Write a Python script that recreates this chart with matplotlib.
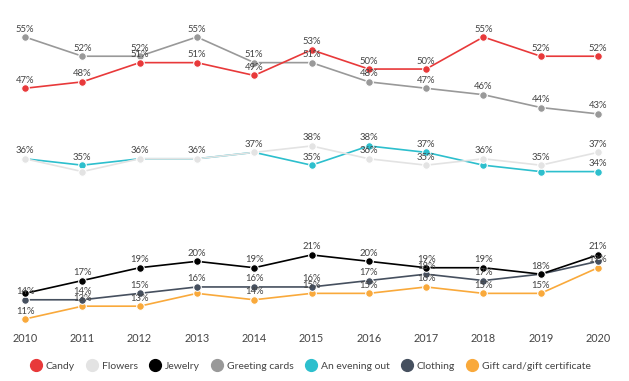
import matplotlib.pyplot as plt
from matplotlib.lines import Line2D

years = [2010, 2011, 2012, 2013, 2014, 2015, 2016, 2017, 2018, 2019, 2020]

candy = [47, 48, 51, 51, 49, 53, 50, 50, 55, 52, 52]
flowers = [36, 34, 36, 36, 37, 38, 36, 35, 36, 35, 37]
jewelry = [15, 17, 19, 20, 19, 21, 20, 19, 19, 18, 21]
greeting_cards = [55, 52, 52, 55, 51, 51, 48, 47, 46, 44, 43]
evening_out = [36, 35, 36, 36, 37, 35, 38, 37, 35, 34, 34]
clothing = [14, 14, 15, 16, 16, 16, 17, 18, 17, 18, 20]
gift_card = [11, 13, 13, 15, 14, 15, 15, 16, 15, 15, 19]

series = [
    ("Candy", candy, "#E8393A"),
    ("Flowers", flowers, "#E3E3E3"),
    ("Jewelry", jewelry, "#000000"),
    ("Greeting cards", greeting_cards, "#999999"),
    ("An evening out", evening_out, "#2DBFCD"),
    ("Clothing", clothing, "#46505F"),
    ("Gift card/gift certificate", gift_card, "#F9A93B"),
]

# labels that are covered by other marks in the original
hidden = {("Flowers", 2011), ("An evening out", 2018), ("An evening out", 2019),
          ("Jewelry", 2010), ("Gift card/gift certificate", 2013),
          ("Clothing", 2020)}

plt.rcParams["font.family"] = ["Lato", "DejaVu Sans"]

fig = plt.figure(figsize=(6.29, 3.81), dpi=100)
ax = fig.add_axes([25 / 629, 62 / 381, 573 / 629, 282 / 381])

placed = set()
for name, vals, color in series:
    for x, v in zip(years, vals):
        if (x, v) in placed or (name, x) in hidden:
            continue
        placed.add((x, v))
        ax.annotate(f"{v}%", (x, v), xytext=(0, 2.5),
                    textcoords="offset points", ha="center", va="bottom",
                    fontsize=6.8, color="#444444", zorder=4)

# draw in reverse so candy ends up on top
for name, vals, color in reversed(series):
    ax.plot(years, vals, color=color, lw=1.2, marker="o", ms=5.5,
            mfc=color, mec="white", mew=0.8, clip_on=False, zorder=3)

ax.set_xlim(2010, 2020)
ax.set_ylim(11, 55)
ax.set_xticks(years)
ax.set_xticklabels([str(y) for y in years])
ax.set_yticks([])
ax.tick_params(axis="x", length=0, pad=10, labelsize=7.8, labelcolor="#444444")
for s in ax.spines.values():
    s.set_visible(False)

handles = [Line2D([], [], ls="", marker="o", ms=8.5, mfc=c, mec=c) for _, _, c in series]
fig.legend(handles, [n for n, _, _ in series], loc="center", ncol=7,
           bbox_to_anchor=(0.494, 15 / 381), frameon=False, fontsize=7.5,
           handletextpad=0.45, columnspacing=1.15, labelcolor="#444444",
           handlelength=1.0)

fig.savefig("out.png", dpi=100)
